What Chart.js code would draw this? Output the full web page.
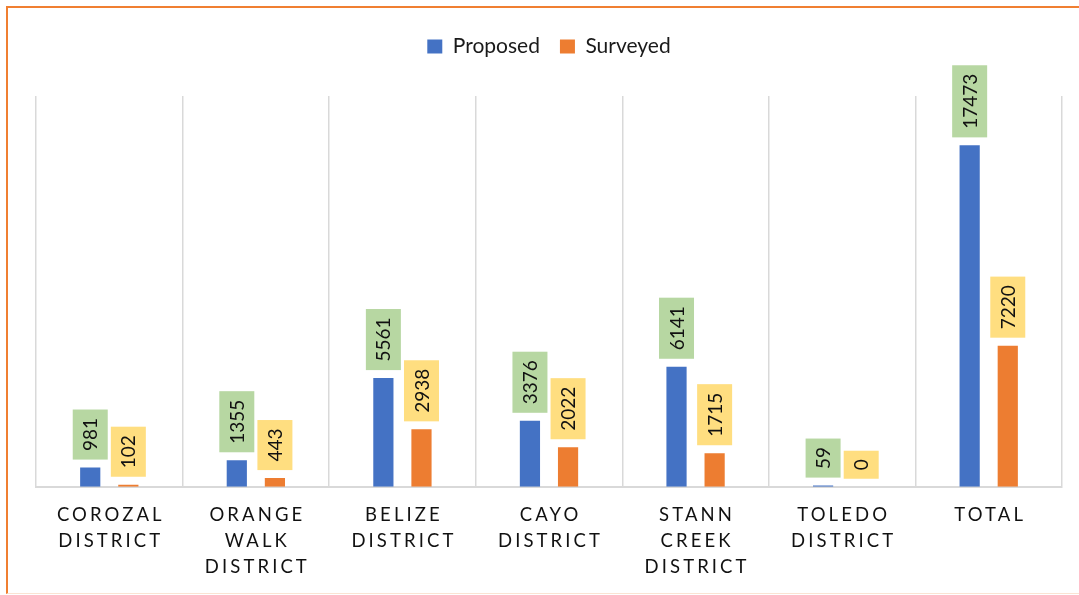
<!DOCTYPE html>
<html>
<head>
<meta charset="utf-8">
<script src="https://cdn.jsdelivr.net/npm/chart.js@4.4.1/dist/chart.umd.min.js"></script>
<style>
  html, body { margin: 0; padding: 0; background: #fff; }
  #wrap { position: relative; width: 1079px; height: 595px; }
  #frame {
    position: absolute; left: 6px; top: 6px; width: 1073px; height: 588px;
    border-left: 2px solid #F07F31; border-top: 2px solid #F07F31;
    border-bottom: 1px solid #FBE3D3; box-sizing: border-box; pointer-events: none;
  }
  canvas { position: absolute; left: 0; top: 0; }
</style>
</head>
<body>
<div id="wrap">
  <canvas id="chart" width="1079" height="595"></canvas>
  <div id="frame"></div>
</div>
<script>
const categories = [
    ['COROZAL', 'DISTRICT'],
    ['ORANGE', 'WALK', 'DISTRICT'],
    ['BELIZE', 'DISTRICT'],
    ['CAYO', 'DISTRICT'],
    ['STANN', 'CREEK', 'DISTRICT'],
    ['TOLEDO', 'DISTRICT'],
    'TOTAL'
];
const proposed = [981, 1355, 5561, 3376, 6141, 59, 17473];
const surveyed = [102, 443, 2938, 2022, 1715, 0, 7220];

const FONT = 'Lato, "Open Sans", sans-serif';

class SpacedCategoryScale extends Chart.CategoryScale {
    drawLabels(chartArea) {
        const ctx = this.ctx;
        ctx.save();
        ctx.letterSpacing = '3.1px';
        ctx.translate(1.5, 0);
        super.drawLabels(chartArea);
        ctx.restore();
    }
}
SpacedCategoryScale.id = 'spacedCategory';
SpacedCategoryScale.defaults = Chart.CategoryScale.defaults;
Chart.register(SpacedCategoryScale);

// keep the legend band a fixed height so the plot starts lower
const legendHeight = {
    id: 'legendHeight',
    afterInit(chart) {
        const legend = chart.legend;
        const fit = legend.fit;
        legend.fit = function () {
            fit.call(this);
            this.height = 80;
        };
    }
};

// boxed, rotated value labels above each bar
const valueLabels = {
    id: 'valueLabels',
    afterDatasetsDraw(chart) {
        const ctx = chart.ctx;
        const fills = ['#B7D7A2', '#FFDE80'];
        ctx.save();
        ctx.font = '19px ' + FONT;
        chart.data.datasets.forEach((ds, i) => {
            const meta = chart.getDatasetMeta(i);
            meta.data.forEach((bar, j) => {
                const text = String(ds.data[j]);
                const len = ctx.measureText(text).width + 17;
                const w = 35;
                const bottom = bar.y - 8;
                ctx.fillStyle = fills[i];
                ctx.fillRect(bar.x - w / 2, bottom - len, w, len);
                ctx.save();
                ctx.translate(bar.x, bottom - len / 2);
                ctx.rotate(-Math.PI / 2);
                ctx.fillStyle = '#111';
                ctx.textAlign = 'center';
                ctx.textBaseline = 'middle';
                ctx.fillText(text, 0, 1);
                ctx.restore();
            });
        });
        ctx.restore();
    }
};

new Chart(document.getElementById('chart'), {
    type: 'bar',
    data: {
        labels: categories,
        datasets: [
            { label: 'Proposed', data: proposed, backgroundColor: '#4472C4' },
            { label: 'Surveyed', data: surveyed, backgroundColor: '#ED7D31' }
        ]
    },
    options: {
        responsive: false,
        animation: false,
        categoryPercentage: 0.52,
        barPercentage: 0.53,
        layout: { padding: { left: 36, right: 17, top: 16, bottom: 0 } },
        plugins: {
            legend: {
                position: 'top',
                labels: {
                    boxWidth: 15,
                    boxHeight: 14,
                    padding: 20,
                    color: '#1a1a1a',
                    font: { size: 21, family: FONT }
                }
            },
            tooltip: { enabled: false }
        },
        scales: {
            x: {
                type: 'spacedCategory',
                grid: { offset: true, color: '#D9D9D9', lineWidth: 1.5, drawTicks: false },
                border: { color: '#D9D9D9', width: 2 },
                ticks: {
                    color: '#111',
                    padding: 15,
                    maxRotation: 0,
                    autoSkip: false,
                    font: { size: 18.5, family: FONT, lineHeight: 1.41 }
                }
            },
            y: {
                display: false,
                min: 0,
                max: 20000
            }
        }
    },
    plugins: [legendHeight, valueLabels]
});
</script>
</body>
</html>
